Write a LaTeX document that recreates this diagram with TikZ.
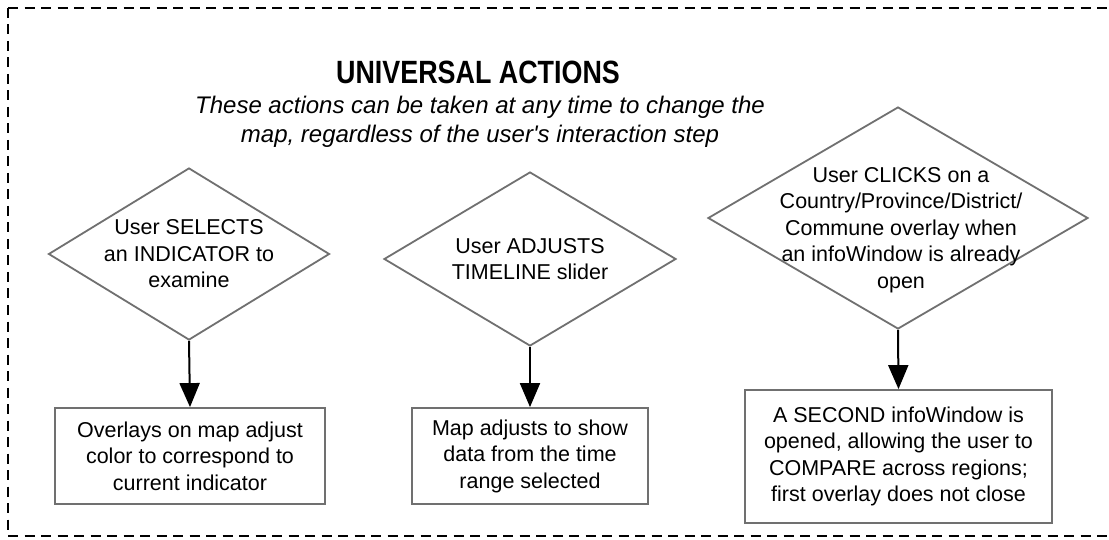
\documentclass[tikz,border=0pt]{standalone}
\usepackage{fontspec}
\setmainfont{Liberation Sans}
\usetikzlibrary{shapes.geometric,arrows.meta}
\definecolor{shapegray}{RGB}{112,112,112}
\tikzset{
  dec/.style={diamond, draw=shapegray, line width=1.8pt, inner sep=0pt, fill=white},
  lbl/.style={align=center, inner sep=0pt, font=\fontsize{21.5}{26.5}\selectfont},
  res/.style={rectangle, draw=shapegray, line width=1.8pt, align=center, inner sep=0pt, font=\fontsize{21.5}{26.5}\selectfont},
  flow/.style={draw=black, line width=2pt, -{Triangle[width=20pt,length=24pt]}},
  frame/.style={draw=black, line width=2.8pt, dash pattern=on 10pt off 6.5pt}
}
\begin{document}
\begin{tikzpicture}[x=1pt,y=-1pt]
\useasboundingbox (0,0) rectangle (1109,540);
\draw[frame] (8,8) -- (1116,8);
\draw[frame] (8,8) -- (8,536) -- (1116,536);

\node[font=\fontsize{28}{34}\selectfont\bfseries] (title) at (478,72) {\scalebox{0.96}[1.15]{UNIVERSAL ACTIONS}};
\node[align=center, font=\fontsize{24}{29}\selectfont\itshape] (sub) at (480,122)
  {These actions can be taken at any time to change the\\map, regardless of the user\textquotesingle s interaction step};

\node[dec, minimum width=281pt, minimum height=172pt] (d1) at (189,254) {};
\node[lbl] (t1) at (d1.center) {User SELECTS\\an INDICATOR to\\examine};

\node[dec, minimum width=292pt, minimum height=174pt] (d2) at (530,259) {};
\node[lbl] (t2) at (d2.center) {User ADJUSTS\\TIMELINE slider};

\node[dec, minimum width=380pt, minimum height=222pt] (d3) at (898,218) {};
\node[lbl] (t3) at (901,230) {User CLICKS on a\\Country/Province/District/\\Commune overlay when\\an infoWindow is already\\open};

\node[res, minimum width=270pt, minimum height=96pt] (b1) at (190,456)
  {Overlays on map adjust\\color to correspond to\\current indicator};
\node[res, minimum width=236pt, minimum height=96pt] (b2) at (530,456)
  {Map adjusts to show\\data from the time\\range selected};
\node[res, minimum width=307pt, minimum height=133pt] (b3) at (898.5,456.5)
  {A SECOND infoWindow is\\opened, allowing the user to\\COMPARE across regions;\\first overlay does not close};

\draw[flow] (d1.south) -- (b1.north);
\draw[flow] (d2.south) -- (b2.north);
\draw[flow] (d3.south) -- (b3.north);
\end{tikzpicture}
\end{document}
